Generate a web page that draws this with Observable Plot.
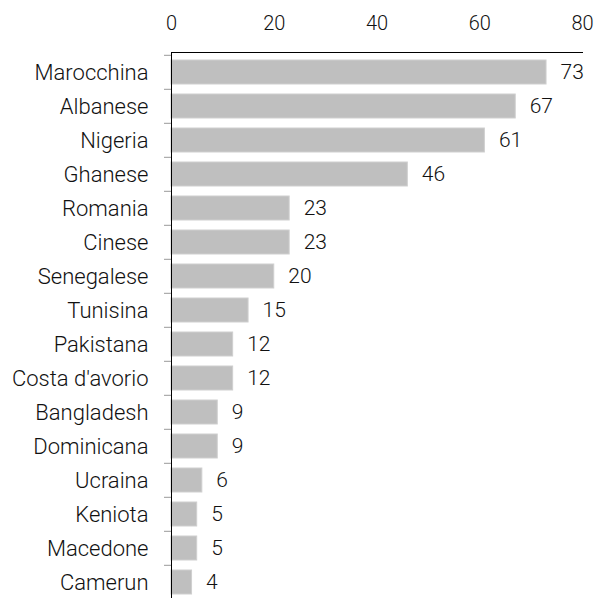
<!DOCTYPE html>
<html>
<head>
<meta charset="utf-8">
<script src="https://cdn.jsdelivr.net/npm/d3@7"></script>
<script src="https://cdn.jsdelivr.net/npm/@observablehq/plot@0.6"></script>
<style>
  html, body { margin: 0; padding: 0; background: #fff; }
  svg { display: block; }
  svg text { font-weight: 300; }
</style>
</head>
<body>
<div id="chart"></div>
<script>
const countries = ["Marocchina","Albanese","Nigeria","Ghanese","Romania","Cinese","Senegalese","Tunisina","Pakistana","Costa d'avorio","Bangladesh","Dominicana","Ucraina","Keniota","Macedone","Camerun"];
const values = [73,67,61,46,23,23,20,15,12,12,9,9,6,5,5,4];
const xTicks = [0,20,40,60,80];

const data = countries.map((c, i) => ({country: c, value: values[i]}));
const font = "Roboto, sans-serif";

const chart = Plot.plot({
  width: 596,
  height: 598,
  marginTop: 52,
  marginLeft: 171,
  marginRight: 14,
  marginBottom: 0,
  style: {fontFamily: font, fontSize: "22px", color: "#111", background: "#fff"},
  x: {domain: [0, 80], range: [171, 582]},
  y: {domain: countries, range: [52, 602], paddingInner: 0.3, paddingOuter: 0.15},
  marks: [
    Plot.gridX(xTicks, {stroke: "#d9d9d9", strokeOpacity: 1, y1: 45, y2: 598}),
    Plot.axisX(xTicks, {anchor: "top", tickSize: 0, tickPadding: 23, fontSize: 20, label: null, fill: "#111"}),
    Plot.axisY({tickSize: 7, text: null, dy: -17.2, stroke: "#999", label: null}),
    Plot.axisY({tickSize: 0, tickPadding: 23, fontSize: 22, label: null, fill: "#111"}),
    Plot.barX(data, {y: "country", x: "value", fill: "#bfbfbf", stroke: "#cfcfcf", strokeWidth: 1}),
    Plot.text(data, {y: "country", x: "value", text: d => String(d.value), textAnchor: "start", dx: 14, fontSize: 21, fill: "#111"}),
    Plot.frame({anchor: "top", stroke: "#000"}),
    Plot.frame({anchor: "left", stroke: "#000"})
  ]
});
document.getElementById("chart").appendChild(chart);
</script>
</body>
</html>
